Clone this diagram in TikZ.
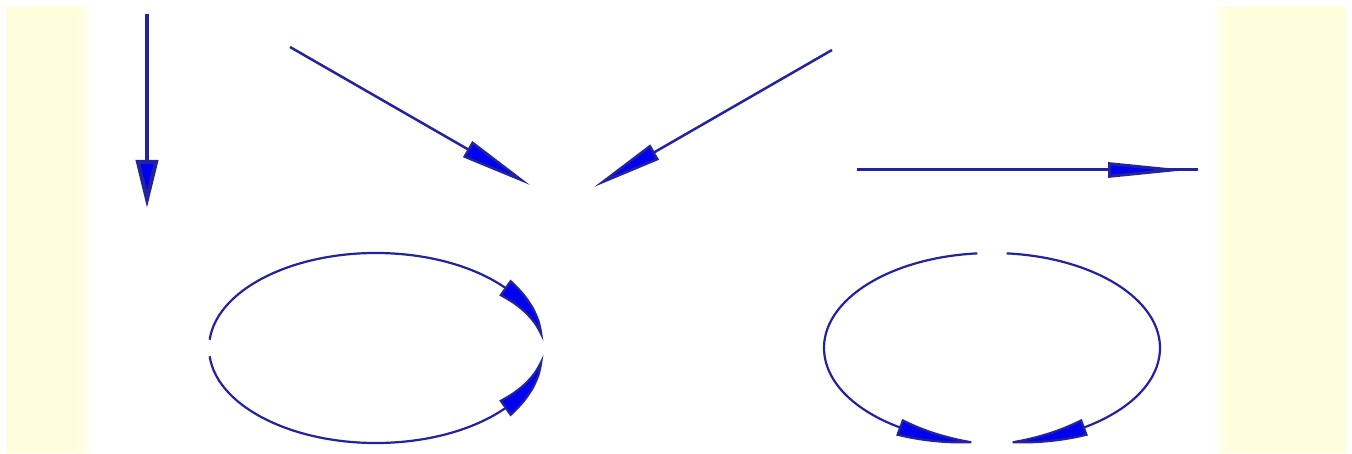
\documentclass[tikz,border=0pt]{standalone}
\usetikzlibrary{arrows.meta, bending, calc}

\definecolor{stripyellow}{RGB}{255,254,220}
\definecolor{linenavy}{RGB}{35,35,160}
\definecolor{headblue}{RGB}{0,0,240}

\begin{document}
\begin{tikzpicture}[
    x=1pt, y=1pt,
    shaft/.style={draw=linenavy, line width=2.5pt},
    vecarrow/.style args={#1/#2}{shaft, -{Triangle[length=#1, width=#2, fill=headblue]}},
    fieldarc/.style args={#1/#2}{shaft, line width=2.2pt, -{Triangle[length=#1, width=#2, fill=headblue, bend]}}
]

% ================= BACKGROUND =================
\fill[white] (0,0) rectangle (1352,453);
\useasboundingbox (0,0) rectangle (1352,453);
\fill[stripyellow] (6,0) rectangle (78,446);
\shade[left color=stripyellow, right color=white] (78,0) rectangle (93,446);
\shade[left color=white, right color=stripyellow] (1212,0) rectangle (1228,446);
\fill[stripyellow] (1228,0) rectangle (1346,446);

% ================= STRAIGHT VECTORS =================
\coordinate (downtop) at (147,439);
\coordinate (downtip) at (147,245);
\coordinate (leftstart) at (290,406);
\coordinate (lefttip) at (530,268);
\coordinate (rightstart) at (832,403);
\coordinate (righttip) at (594,266);
\coordinate (horstart) at (857,283);
\coordinate (horhead) at (1188,283);
\coordinate (horend) at (1198,283);

\draw[vecarrow=48pt/22pt, line width=4pt] (downtop) -- (downtip);
\draw[vecarrow=72pt/18pt] (leftstart) -- (lefttip);
\draw[vecarrow=70pt/17pt] (rightstart) -- (righttip);
\draw[shaft, line width=3pt] (horstart) -- (horend);
\draw[vecarrow=80pt/15pt, line width=3pt] (horstart) -- (horhead);

% ================= CLOSED LOOPS =================
\coordinate (loopA) at (376,105);
\coordinate (loopB) at (992,105);

% loop A: both halves meet on the right
\draw[fieldarc=62pt/19pt] ($(loopA)+(175:167pt and 95pt)$) arc[start angle=175, end angle=4, x radius=167pt, y radius=95pt];
\draw[fieldarc=62pt/19pt] ($(loopA)+(185:167pt and 95pt)$) arc[start angle=185, end angle=356, x radius=167pt, y radius=95pt];

% loop B: both halves meet at the bottom
\draw[fieldarc=92pt/17pt] ($(loopB)+(95:168pt and 95pt)$) arc[start angle=95, end angle=267, x radius=168pt, y radius=95pt];
\draw[fieldarc=92pt/17pt] ($(loopB)+(85:168pt and 95pt)$) arc[start angle=85, end angle=-87, x radius=168pt, y radius=95pt];

\end{tikzpicture}
\end{document}
